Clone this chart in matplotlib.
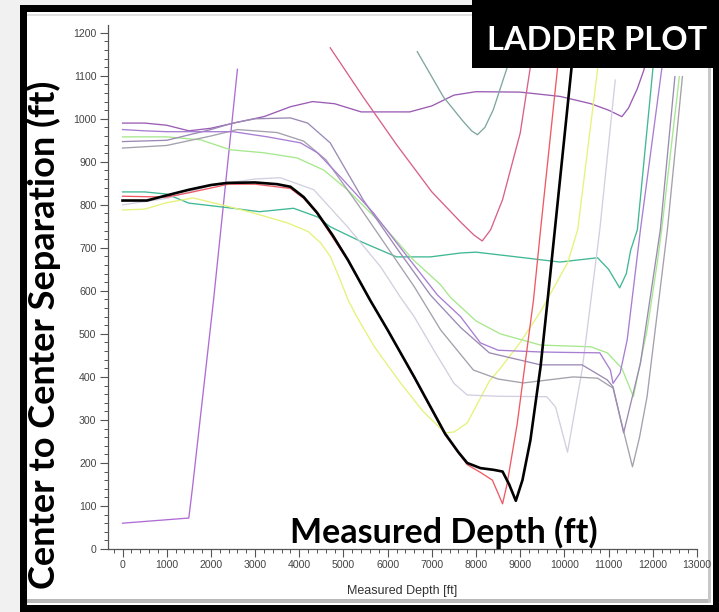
import matplotlib.pyplot as plt
from matplotlib.patches import Rectangle
from matplotlib.ticker import MultipleLocator

# measured depth (ft) / centre-to-centre separation (ft) for each offset well
black_md = [0, 550, 1000, 1500, 2000, 2370, 3000, 3500, 3800, 4100, 4400, 4750, 5100, 5600,
            6000, 6600, 7300, 7600, 7800, 8100, 8400, 8600, 8750, 8900, 9050, 9230, 9460,
            9620, 10160, 10260]
black_sep = [810, 810, 822, 835, 846, 851, 852, 848, 842, 818, 782, 730, 672, 579,
             509, 400, 268, 225, 200, 188, 184, 180, 150, 112, 160, 253, 424,
             579, 1118, 1230]

red_md = [0, 1000, 1500, 2400, 3000, 3800, 4100, 4400, 5100, 5600, 6000, 6600, 7300, 7800,
          8100, 8370, 8600, 8700, 8930, 9300, 9460, 9840, 9950]
red_sep = [820, 818, 828, 848, 848, 838, 815, 780, 670, 578, 508, 398, 265, 196,
           178, 160, 105, 150, 290, 579, 742, 1114, 1230]

violet_md = [0, 1500, 1580, 2060, 2600]
violet_sep = [60, 72, 140, 579, 1115]

plum_md = [0, 500, 1000, 1500, 2000, 2600, 3200, 3800, 4300, 4800, 5400, 6500, 7000, 7500,
           8000, 9000, 9900, 10600, 11000, 11300, 11450, 11650, 11800, 12050]
plum_sep = [990, 990, 985, 972, 978, 992, 1005, 1028, 1040, 1035, 1016, 1016, 1030, 1055,
            1063, 1062, 1052, 1035, 1020, 1005, 1025, 1070, 1114, 1230]

rose_md = [4700, 5450, 6200, 7000, 7650, 7950, 8140, 8330, 8600, 9000, 9230, 9350]
rose_sep = [1165, 1050, 940, 830, 760, 730, 716, 742, 812, 967, 1121, 1230]

slate_md = [6670, 7260, 7700, 7900, 8030, 8200, 8390, 8710, 8850]
slate_sep = [1156, 1051, 995, 972, 963, 980, 1021, 1121, 1230]

teal_md = [0, 500, 1000, 1500, 2500, 3100, 3870, 4410, 4700, 5450, 6200, 6970, 7650, 8000,
           9000, 9900, 10750, 11000, 11250, 11400, 11500, 11650, 12000, 12100]
teal_sep = [830, 830, 825, 804, 792, 784, 792, 772, 749, 712, 679, 679, 688, 690,
            678, 667, 677, 650, 607, 640, 695, 742, 1114, 1230]

yellow_md = [0, 500, 1000, 1600, 2440, 3000, 3730, 4200, 4480, 4700, 4900, 5100, 5300, 5700,
             6290, 6800, 7300, 7500, 7800, 8300, 8550, 9000, 9460, 10070, 10300, 10750, 10850]
yellow_sep = [788, 790, 805, 816, 795, 780, 758, 738, 712, 680, 632, 580, 540, 470,
              386, 320, 270, 272, 293, 390, 420, 480, 552, 665, 742, 1114, 1230]

green_md = [0, 1000, 1770, 2440, 3200, 3950, 4550, 5090, 5840, 6580, 7190, 7420, 8000, 8550,
            9460, 10600, 10970, 11300, 11560, 11870, 12100, 12200, 12600]
green_sep = [958, 958, 951, 928, 921, 909, 881, 835, 758, 672, 615, 585, 530, 500,
             474, 470, 456, 420, 354, 509, 665, 742, 1098]

purple_md = [0, 500, 1000, 2500, 3280, 4030, 4410, 4930, 5680, 6450, 7130, 7650, 8100, 8500,
             9460, 10000, 10800, 11040, 11100, 11260, 11420, 11720, 12200, 12330]
purple_sep = [975, 972, 970, 970, 958, 944, 921, 865, 781, 679, 590, 540, 479, 462,
              458, 457, 456, 416, 385, 409, 486, 742, 1114, 1230]

mauve_md = [0, 1000, 2000, 2500, 3000, 3800, 4190, 4700, 5450, 6200, 6970, 7650, 8300, 9460,
            10400, 10970, 11100, 11340, 11720, 12170, 12500]
mauve_sep = [947, 950, 975, 990, 1000, 1002, 990, 944, 811, 700, 590, 515, 456, 428,
             428, 393, 377, 270, 432, 742, 1098]

gray_md = [0, 1000, 2000, 2600, 3500, 4100, 4600, 5300, 6000, 6600, 7200, 7940, 8500, 9070,
           10200, 10750, 11100, 11300, 11540, 11700, 11870, 12330, 12670]
gray_sep = [932, 938, 960, 975, 968, 948, 905, 805, 700, 610, 509, 416, 395, 386,
            400, 397, 374, 290, 191, 260, 354, 742, 1098]

lilac_md = [0, 1000, 2000, 3000, 3570, 4330, 5090, 5840, 6290, 6600, 7040, 7500, 7800, 8500,
            9600, 9800, 10070, 10250, 10400, 10800, 11150]
lilac_sep = [800, 815, 845, 860, 863, 835, 749, 656, 585, 540, 463, 385, 358, 355,
             354, 330, 225, 330, 416, 742, 1090]

W, H = 719, 612
fig = plt.figure(figsize=(W / 100, H / 100), dpi=100, facecolor="#f1f1f1")


def px_rect(x0, y0, x1, y1, **kw):
    r = Rectangle((x0 / W, 1 - y1 / H), (x1 - x0) / W, (y1 - y0) / H,
                  transform=fig.transFigure, **kw)
    fig.add_artist(r)
    return r


# window frame
px_rect(20, 5, W, H, facecolor="black", edgecolor="none", zorder=-3)
px_rect(27, 12, 713, 605, facecolor="white", edgecolor="none", zorder=-2)
px_rect(27, 599, 711, 603, facecolor="#b8b8b8", edgecolor="none", zorder=-1)
px_rect(708, 12, 711, 603, facecolor="#c8c8c8", edgecolor="none", zorder=-1)
px_rect(27, 14, 713, 15.5, facecolor="#e2e2e2", edgecolor="none", zorder=-1)

ax = fig.add_axes([107.5 / W, 1 - 549 / H, (697 - 107.5) / W, (549 - 25) / H])
ax.patch.set_visible(False)

thin = 0.95
ax.plot(violet_md, violet_sep, color="#b06cd6", lw=thin)
ax.plot(plum_md, plum_sep, color="#9a5cb4", lw=thin)
ax.plot(rose_md, rose_sep, color="#d8608a", lw=thin)
ax.plot(slate_md, slate_sep, color="#7fa6a0", lw=thin)
ax.plot(teal_md, teal_sep, color="#3fb894", lw=thin)
ax.plot(yellow_md, yellow_sep, color="#e6f27a", lw=thin)
ax.plot(green_md, green_sep, color="#a6e88c", lw=thin)
ax.plot(lilac_md, lilac_sep, color="#d3cfe0", lw=thin)
ax.plot(gray_md, gray_sep, color="#a4a0ac", lw=thin)
ax.plot(mauve_md, mauve_sep, color="#9b8ab4", lw=thin)
ax.plot(purple_md, purple_sep, color="#a87ed2", lw=thin)
ax.plot(red_md, red_sep, color="#ee5a64", lw=thin)
ax.plot(black_md, black_sep, color="black", lw=1.9)

ax.set_xlim(-340, 13000)
ax.set_ylim(0, 1218)
for side in ["top", "right"]:
    ax.spines[side].set_visible(False)
for side in ["left", "bottom"]:
    ax.spines[side].set_color("#555555")
    ax.spines[side].set_linewidth(0.9)
ax.xaxis.set_major_locator(MultipleLocator(1000))
ax.xaxis.set_minor_locator(MultipleLocator(200))
ax.yaxis.set_major_locator(MultipleLocator(100))
ax.yaxis.set_minor_locator(MultipleLocator(20))
ax.tick_params(which="major", length=6, width=0.8, color="#555555",
               labelsize=7.6, labelcolor="#444444", pad=2)
ax.tick_params(which="minor", length=3, width=0.7, color="#555555")
for lbl in ax.get_xticklabels() + ax.get_yticklabels():
    lbl.set_family("Liberation Sans")

fig.text(402 / W, 1 - 591 / H, "Measured Depth [ft]", ha="center", va="center",
         fontsize=9, color="#333333", family="Liberation Sans")

big = dict(family="Lato", weight="bold", color="black", zorder=10)
fig.text(44 / W, 1 - 335 / H, "Center to Center Separation (ft)", rotation=90,
         ha="center", va="center", fontsize=26, **big)
fig.text(290 / W, 1 - 543 / H, "Measured Depth (ft)", ha="left", va="baseline",
         fontsize=24.5, **big)

# title tag in the corner
px_rect(472, 0, W, 68, facecolor="black", edgecolor="none", zorder=8)
fig.text(597 / W, 1 - 41 / H, "LADDER PLOT", ha="center", va="center", fontsize=23.5,
         family="Lato", weight="bold", color="white", zorder=10)

fig.savefig("out.png", dpi=100, facecolor=fig.get_facecolor())
